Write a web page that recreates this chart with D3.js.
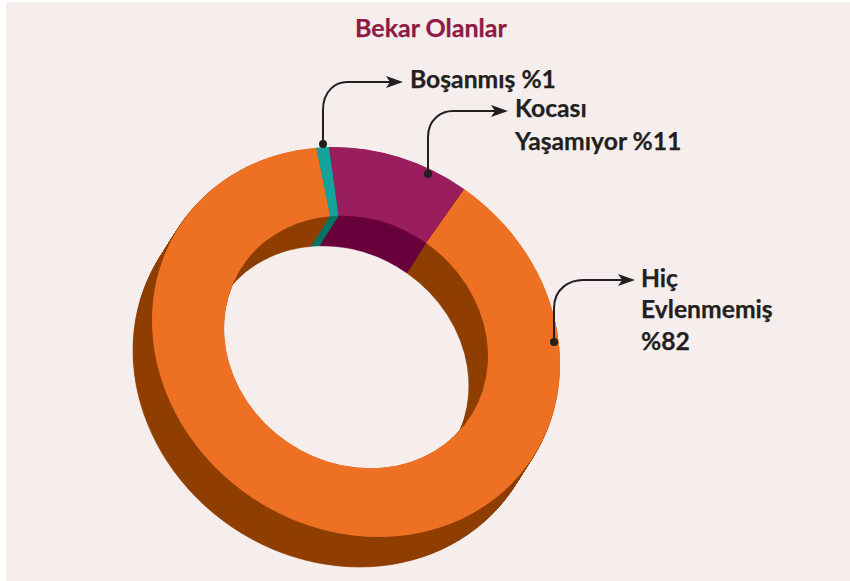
<!DOCTYPE html>
<html><head><meta charset="utf-8">
<script src="https://cdn.jsdelivr.net/npm/d3@7"></script>
<style>html,body{margin:0;padding:0;background:#fff}svg{display:block}</style>
</head><body><div id="chart"></div>
<script>
// The printed labels sum to 94; the picture fills the remaining 6 in the same orange.
const categories = ["Boşanmış", "Kocası Yaşamıyor", "Hiç Evlenmemiş", "(etiketsiz kalan)"];
const values = [1, 11, 82, 6];
const topColors = ["#14a39a", "#9a1d5e", "#ee7023", "#ee7023"];
const sideColors = ["#067568", "#69003c", "#8f3f00", "#8f3f00"];
const title = "Bekar Olanlar";
const labels = [["Boşanmış %1"], ["Kocası", "Yaşamıyor %11"], ["Hiç", "Evlenmemiş", "%82"]];

const W = 850, H = 581;
const svg = d3.select("#chart").append("svg").attr("width", W).attr("height", H);
svg.append("rect").attr("x", 6).attr("y", 2).attr("width", W - 6).attr("height", H - 2).attr("fill", "#f5eeec");

const cx = 356, cy = 342, R = 204, rInner = 132;
const m = [203.7 / R, 11.04 / R, 11.04 / R, 194.7 / R];   // tilted ellipse
const depthX = -19, depthY = 30, steps = 40;
const start = -8.1 * Math.PI / 180;
const pie = d3.pie().sort(null).value(d => d).startAngle(start).endAngle(start + 2 * Math.PI);
const arcs = pie(values).slice().reverse();
// the orange slice runs a hair over its neighbour so no seam shows between the two oranges
const arc = d3.arc().innerRadius(rInner).outerRadius(R)
  .endAngle(d => d.endAngle + (d.index === 2 ? 0.02 : 0));
const tf = (x, y) => `matrix(${m[0]},${m[1]},${m[2]},${m[3]},${x},${y})`;

for (let k = steps; k >= 1; k--) {
  const g = svg.append("g").attr("transform", tf(cx + depthX * k / steps, cy + depthY * k / steps));
  g.selectAll("path").data(arcs).join("path").attr("d", arc)
    .attr("fill", d => sideColors[d.index])
    .attr("stroke", d => sideColors[d.index]).attr("stroke-width", 0.6);
}
svg.append("g").attr("transform", tf(cx, cy))
  .selectAll("path").data(arcs).join("path").attr("d", arc)
  .attr("fill", d => topColors[d.index]);

const font = "Lato, Carlito, sans-serif";
svg.append("text").attr("x", 355).attr("y", 37).attr("font-family", font).attr("font-weight", 700)
  .attr("font-size", 25).attr("fill", "#8e1a45").attr("stroke", "#8e1a45").attr("stroke-width", 0.25).text(title);

const ink = "#231f20";
const callouts = [
  {dot: [323, 144], vx: 323, vy: 110, hx: 347, hy: 82, tip: 403, tx: 410, lines: [88]},
  {dot: [428, 174], vx: 428, vy: 137, hx: 453, hy: 111, tip: 508, tx: 515, lines: [117, 150]},
  {dot: [554, 342], vx: 554, vy: 308, hx: 583, hy: 280, tip: 635, tx: 641, lines: [287, 318, 350]}
];
callouts.forEach((c, i) => {
  const p = d3.path();
  p.moveTo(c.dot[0], c.dot[1]);
  p.lineTo(c.vx, c.vy);
  p.bezierCurveTo(c.vx, c.hy + (c.vy - c.hy) * 0.3, c.hx - (c.hx - c.vx) * 0.45, c.hy, c.hx, c.hy);
  p.lineTo(c.tip - 10, c.hy);
  svg.append("path").attr("d", p.toString()).attr("fill", "none").attr("stroke", ink).attr("stroke-width", 2);
  svg.append("circle").attr("cx", c.dot[0]).attr("cy", c.dot[1]).attr("r", 4).attr("fill", ink);
  const a = d3.path();
  a.moveTo(c.tip, c.hy); a.lineTo(c.tip - 17, c.hy - 6); a.lineTo(c.tip - 13, c.hy);
  a.lineTo(c.tip - 17, c.hy + 6); a.closePath();
  svg.append("path").attr("d", a.toString()).attr("fill", ink);
  labels[i].forEach((t, j) => {
    svg.append("text").attr("x", c.tx).attr("y", c.lines[j]).attr("font-family", font)
      .attr("font-weight", 700).attr("font-size", 24.7).attr("fill", ink)
      .attr("stroke", ink).attr("stroke-width", 0.25).text(t);
  });
});
</script></body></html>
